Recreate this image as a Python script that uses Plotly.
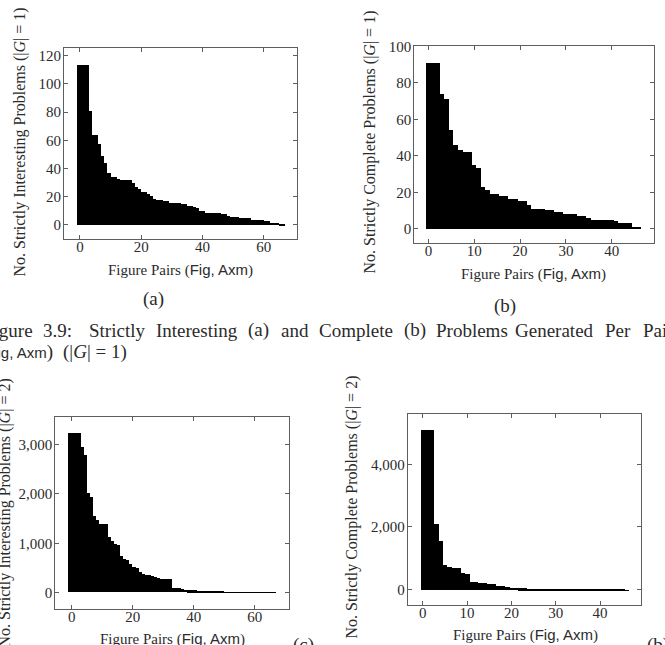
import numpy as np
import plotly.graph_objects as go

W, H = 665, 645
SERIF = "Liberation Serif"
TXT = "#2b2b2b"
AXC = "#5e5e5e"

# ---------------- data ----------------
interesting_g1 = [114, 114, 114, 114, 81, 64, 64, 58, 49, 44, 37, 34, 34, 33,
                  32, 32, 32, 32, 30, 27, 26, 24, 24, 22, 21, 19, 18, 18, 17, 17,
                  16, 16, 16, 16, 15, 15, 14, 14, 13, 12, 10, 10, 9, 9, 9, 9, 9,
                  8, 8, 7, 6, 6, 6, 5, 5, 5, 5, 4, 4, 4, 4, 3, 3, 2, 2, 2, 1, 1]
complete_g1 = [91, 91, 91, 74, 71, 54, 46, 43, 42, 42, 35, 33, 23, 21, 19, 19,
               18, 18, 16, 16, 15, 15, 13, 11, 11, 11, 10, 10, 9, 9, 8, 8, 8,
               7, 7, 6, 5, 5, 5, 5, 5, 4, 3, 3, 3, 1, 1]
interesting_g2 = [3230, 3230, 3230, 3230, 2930, 2780, 2000, 1920, 1550, 1460,
                  1380, 1380, 1380, 1110, 1030, 980, 950, 730, 680, 660, 580,
                  520, 500, 420, 370, 360, 350, 330, 310, 290, 280, 280, 270,
                  270, 90, 90, 80, 70, 50, 40, 40, 40, 30, 30, 20, 20, 20,
                  10, 10, 8, 8, 6, 6, 5, 5, 4, 4, 3, 3, 3, 2, 2, 2, 2, 1, 1, 1, 1]
complete_g2 = [5100, 5100, 5100, 2120, 1560, 790, 740, 700, 690, 550, 500, 260,
               250, 230, 220, 190, 180, 130, 120, 100, 70, 65, 60, 55, 50, 50,
               45, 45, 40, 40, 35, 35, 30, 30, 30, 25, 10, 10, 8, 8, 6, 6, 5,
               5, 4, 3, 2]

xticks_a = [0, 20, 40, 60]
yticks_a = [0, 20, 40, 60, 80, 100, 120]
xticks_b = [0, 10, 20, 30, 40]
yticks_b = [0, 20, 40, 60, 80, 100]
xticks_c = [0, 20, 40, 60]
yticks_c = [0, 1000, 2000, 3000]
xticks_d = [0, 10, 20, 30, 40]
yticks_d = [0, 2000, 4000]

# ---------------- helpers ----------------
def dx(a, b):
    return [a / W, b / W]

def dy(top, bottom):
    return [1 - bottom / H, 1 - top / H]

fig = go.Figure()

panels = [
    (interesting_g1, -1.0, "", (64, 297), (41, 235), [-5.2, 70.9], [-10.3, 125.8], xticks_a, yticks_a, None),
    (complete_g1, -0.5, "2", (414.3, 654.3), (39.5, 238.7), [-3.1, 49.3], [-7.9, 100.2], xticks_b, yticks_b, None),
    (interesting_g2, -1.0, "3", (55.3, 288.7), (415, 608.3), [-5.4, 71.1], [-320, 3546], xticks_c, yticks_c, ",d"),
    (complete_g2, -0.5, "4", (407.7, 641.3), (411, 605), [-3.4, 49.3], [-505, 5620], xticks_d, yticks_d, ",d"),
]

layout_axes = {}
for vals, off, k, xd, yd, xr, yr, xt, yt, fmt in panels:
    fig.add_trace(go.Bar(
        x=np.arange(len(vals)), y=vals, width=1, offset=off,
        marker=dict(color="#000000", line=dict(width=0)),
        xaxis="x" + k, yaxis="y" + k, hoverinfo="skip", showlegend=False,
    ))
    common = dict(
        ticks="inside", ticklen=4, tickwidth=1, tickcolor=AXC,
        showline=True, linecolor=AXC, linewidth=1, mirror="ticks",
        showgrid=False, zeroline=False, tickmode="array",
        tickfont=dict(family=SERIF, size=15, color=TXT),
    )
    layout_axes["xaxis" + k] = dict(common, domain=dx(*xd), range=xr, tickvals=xt,
                                    anchor="y" + k, ticklabelstandoff=-6)
    ya = dict(common, domain=dy(*yd), range=yr, tickvals=yt, anchor="x" + k,
              ticklabelstandoff=-1)
    if fmt:
        ya["tickformat"] = fmt
    layout_axes["yaxis" + k] = ya

fig.update_layout(
    width=W, height=H,
    margin=dict(l=0, r=0, t=0, b=0),
    paper_bgcolor="white", plot_bgcolor="white",
    bargap=0, showlegend=False,
    **layout_axes,
)

SANS = '<span style="font-family:Liberation Sans">Fig, Axm</span>'
XT = "Figure Pairs (" + SANS + ")"

def ann(text, px, py, size=14, angle=0, xanchor="center"):
    fig.add_annotation(
        text=text, x=px / W, y=1 - py / H, xref="paper", yref="paper",
        showarrow=False, textangle=angle, xanchor=xanchor, yanchor="middle",
        font=dict(family=SERIF, size=size, color=TXT),
    )

YT = 16
XTS = 15
# axis titles and sub labels
ann("No. Strictly Interesting Problems (|<i>G</i>| = 1)", 20, 137, YT, -90)
ann(XT, 180.5, 266, XTS)
ann("(a)", 153, 295, 19)

ann("No. Strictly Complete Problems (|<i>G</i>| = 1)", 370, 137, YT, -90)
ann(XT, 533, 270, XTS)
ann("(b)", 505, 302, 19)

ann("No. Strictly Interesting Problems (|<i>G</i>| = 2)", 5, 512, YT, -90)
ann(XT, 172, 639, XTS)
ann("(c)", 303, 645, 19)

ann("No. Strictly Complete Problems (|<i>G</i>| = 2)", 352, 505, YT, -90)
ann(XT, 525, 635, XTS)
ann("(b)", 658, 645, 19)

# caption (justified words)
CAP = 19
line1 = [("Figure", 35, "right"), ("3.9:", 57, "center"), ("Strictly", 116.5, "center"),
         ("Interesting", 196.5, "center"), ("(a)", 258, "center"), ("and", 295, "center"),
         ("Complete", 356, "center"), ("(b)", 414.5, "center"), ("Problems", 472, "center"),
         ("Generated", 554.5, "center"), ("Per", 618, "center"), ("Pair", 641, "left")]
for w, px, xa in line1:
    ann(w, px, 327, CAP, 0, xa)
ann('(<span style="font-family:Liberation Sans;font-size:15px">Fig, Axm</span>)', 55, 349, CAP, 0, "right")
ann("(|<i>G</i>| = 1)", 61, 349, CAP, 0, "left")

fig.write_html("out.html")
